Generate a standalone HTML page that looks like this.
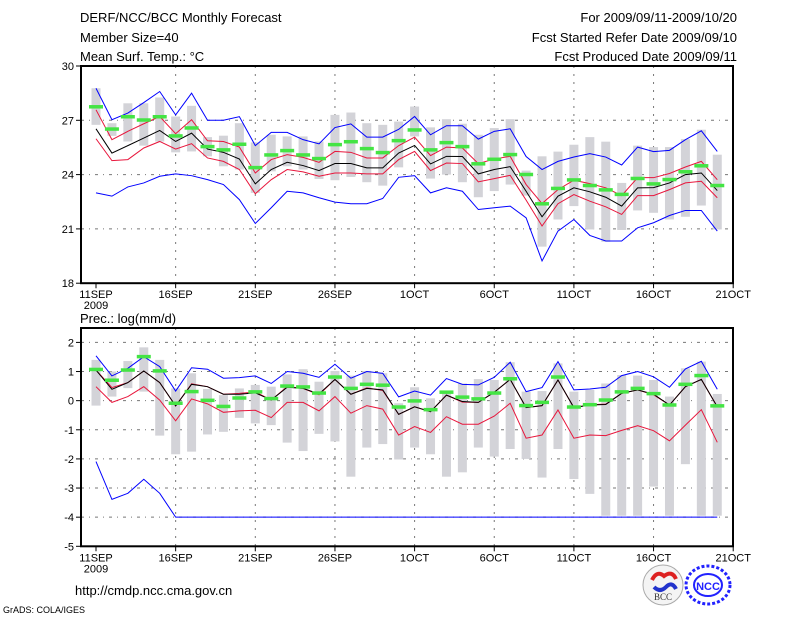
<!DOCTYPE html>
<html><head><meta charset="utf-8"><style>
html,body{margin:0;padding:0;background:#fff;}
svg{display:block;font-family:"Liberation Sans",sans-serif;}
</style></head><body>
<svg id="chart" width="800" height="618" viewBox="0 0 800 618" xmlns="http://www.w3.org/2000/svg">
<g font-size="13" fill="#000">
<text x="80" y="22">DERF/NCC/BCC Monthly Forecast</text>
<text x="80" y="42">Member Size=40</text>
<text x="80" y="61">Mean Surf. Temp.: °C</text>
<text x="737" y="22" text-anchor="end">For 2009/09/11-2009/10/20</text>
<text x="737" y="42" text-anchor="end">Fcst Started Refer Date 2009/09/10</text>
<text x="737" y="61" text-anchor="end">Fcst Produced Date 2009/09/11</text>
<text x="80" y="323">Prec.: log(mm/d)</text>
<text x="75" y="595">http://cmdp.ncc.cma.gov.cn</text>
<text x="3" y="613" font-size="9">GrADS: COLA/IGES</text>
</g>
<g id="top"></g>
<g id="bot"></g>
<g>
<circle cx="663" cy="585" r="20" fill="#f4f4f4" stroke="#aaa"/>
<path d="M652 580 q5 -10 12 -4 q8 -6 12 3" stroke="#d22" stroke-width="4" fill="none"/>
<path d="M654 587 q6 6 12 0 q6 -6 10 2" stroke="#23c" stroke-width="4" fill="none"/>
<text x="663" y="600" font-size="9" text-anchor="middle" font-family="Liberation Serif,serif" fill="#333">BCC</text>
</g>
<g>
<ellipse cx="708" cy="585" rx="22" ry="19" fill="none" stroke="#22f" stroke-width="3" stroke-dasharray="3,2"/>
<ellipse cx="708" cy="585" rx="14" ry="11" fill="none" stroke="#22f" stroke-width="2"/>
<text x="708" y="590" font-size="11" font-weight="bold" text-anchor="middle" fill="#22f">NCC</text>
</g>
</svg>
<script>
// ---- data: temperature (°C) ----
const categories = ["11SEP","16SEP","21SEP","26SEP","1OCT","6OCT","11OCT","16OCT","21OCT"];
const tBlueHi = [28.77,27.03,27.4,27.98,28.59,27.3,28.5,27.0,27.0,27.2,25.6,26.33,26.33,25.93,25.7,26.6,26.8,26.07,26.07,26.5,27.21,26.2,26.7,26.7,25.96,26.39,26.53,25.0,24.28,24.73,24.97,25.16,24.97,24.53,25.52,25.27,25.34,25.93,26.42,25.28];
const tBlueLo = [22.99,22.81,23.32,23.54,23.91,24.04,23.94,23.72,23.45,22.62,21.3,22.17,23.08,22.99,22.72,22.48,22.39,22.39,22.68,23.85,23.94,22.99,23.27,23.08,22.07,22.17,22.26,21.61,19.23,20.88,21.52,20.64,20.33,20.33,21.06,21.34,21.74,22.02,22.02,20.88];
const tRedHi = [27.58,25.93,26.39,26.81,27.21,26.26,27.03,25.87,25.83,25.52,24.09,24.83,25.1,24.95,24.68,25.28,25.23,24.92,24.92,25.6,26.07,25.05,25.52,25.47,24.61,24.86,25.01,23.45,22.4,23.17,23.69,23.5,23.27,22.84,23.83,23.83,24.06,24.42,24.73,23.72];
const tRedLo = [25.98,24.77,24.83,25.47,25.83,25.41,25.71,24.92,24.73,24.28,22.94,23.72,24.28,24.15,23.91,24.09,24.09,24.04,24.04,24.83,25.28,24.22,24.64,24.61,23.6,23.78,23.96,22.59,21.16,22.39,22.9,22.53,22.22,21.8,22.84,22.84,23.17,23.54,23.63,22.72];
const tMean = [26.53,25.19,25.6,26.02,26.44,25.83,26.29,25.41,25.23,24.86,23.49,24.28,24.68,24.5,24.22,24.61,24.61,24.37,24.37,25.19,25.61,24.59,25.01,25.0,24.04,24.28,24.44,23.08,21.67,22.81,23.27,23.05,22.75,22.26,23.27,23.28,23.54,24.0,24.09,23.12];
const tObs = [27.76,26.53,27.21,27.03,27.21,26.15,26.59,25.56,25.38,25.69,24.4,25.1,25.34,25.1,24.9,25.67,25.83,25.45,25.23,25.89,26.48,25.38,25.78,25.56,24.61,24.86,25.12,24.02,22.4,23.25,23.72,23.41,23.17,22.92,23.8,23.5,23.74,24.17,24.5,23.41];
const tBarHi = [28.77,26.84,27.94,27.94,28.26,27.21,27.8,26.07,26.15,26.84,25.78,26.2,26.11,26.11,25.83,27.3,27.43,26.84,26.75,26.93,27.76,26.61,27.06,26.81,26.2,26.57,27.06,24.22,25.01,25.27,25.65,26.07,25.82,23.54,25.6,25.52,25.52,25.96,26.48,25.1];
const tBarLo = [26.75,26.14,25.83,25.6,25.83,25.23,25.28,25.01,24.46,24.28,22.99,24.18,24.46,24.28,23.76,23.69,23.87,23.58,23.39,24.4,26.11,23.78,24.0,23.58,22.75,23.09,23.45,22.84,20.02,21.52,22.26,20.97,20.29,20.94,22.02,21.89,21.52,21.67,22.29,20.97];
const tTicks = [30,27,24,21,18];
// ---- data: precipitation log(mm/d) ----
const pBlueHi = [1.54,0.85,1.11,1.51,1.17,0.33,1.13,1.08,0.77,0.79,0.85,0.59,1.0,0.94,0.8,1.25,0.77,1.0,0.94,0.13,0.33,0.19,0.76,0.56,0.54,0.8,1.32,0.31,0.45,1.34,0.37,0.4,0.46,0.86,1.0,0.82,0.46,1.09,1.35,0.39];
const pBlueLo = [-2.09,-3.39,-3.18,-2.7,-3.18,-4,-4,-4,-4,-4,-4,-4,-4,-4,-4,-4,-4,-4,-4,-4,-4,-4,-4,-4,-4,-4,-4,-4,-4,-4,-4,-4,-4,-4,-4,-4,-4,-4,-4,-4];
const pRedHi = [1.05,0.45,0.62,1.02,0.62,-0.18,0.58,0.48,0.22,0.25,0.3,0.02,0.48,0.42,0.2,0.73,0.22,0.44,0.35,-0.47,-0.21,-0.38,0.19,-0.05,-0.06,0.29,0.73,-0.24,-0.17,0.71,-0.24,-0.14,-0.12,0.25,0.37,0.2,-0.15,0.48,0.73,-0.21];
const pRedLo = [0.48,-0.06,0.14,0.48,0.02,-0.69,0.06,-0.11,-0.4,-0.35,-0.33,-0.58,-0.06,-0.06,-0.35,0.14,-0.43,-0.17,-0.29,-1.18,-0.89,-1.09,-0.55,-0.81,-0.81,-0.53,-0.09,-1.29,-1.18,-0.32,-1.29,-1.18,-1.2,-1.02,-0.86,-1.03,-1.38,-0.84,-0.31,-1.43];
const pMean = [1.05,0.39,0.62,1.02,0.62,-0.18,0.56,0.48,0.22,0.22,0.27,0.02,0.46,0.42,0.23,0.73,0.22,0.42,0.37,-0.47,-0.21,-0.38,0.19,-0.03,-0.06,0.29,0.73,-0.24,-0.17,0.71,-0.24,-0.15,-0.13,0.25,0.37,0.22,-0.15,0.48,0.73,-0.21];
const pObs = [1.08,0.71,1.06,1.52,1.03,-0.08,0.32,0.02,-0.19,0.1,0.31,0.08,0.51,0.48,0.27,0.82,0.43,0.57,0.54,-0.21,0,-0.3,0.3,0.13,0.07,0.27,0.76,-0.16,-0.05,0.82,-0.21,-0.13,0.03,0.31,0.43,0.25,-0.14,0.57,0.87,-0.17];
const pBarHi = [1.4,1.0,1.36,1.83,1.4,0.42,0.94,0.4,0.19,0.42,0.54,0.48,0.9,1.08,0.65,1.02,0.86,1.02,0.94,-0.09,0.46,0.08,0.33,0.59,0.74,0.71,1.32,0.31,0.33,1.28,0.31,0.37,0.59,0.88,0.86,0.71,0.14,1.11,1.34,0.23];
const pBarLo = [-0.17,0.14,0.43,0.31,-1.2,-1.84,-1.75,-1.16,-1.07,-0.59,-0.78,-0.84,-1.44,-1.73,-1.14,-1.4,-2.61,-1.61,-1.49,-2.02,-1.61,-1.84,-2.61,-2.46,-1.61,-1.92,-1.66,-2.0,-2.64,-1.66,-2.69,-3.2,-3.95,-3.95,-3.95,-2.95,-3.95,-2.18,-3.95,-3.95];
const pTicks = [2,1,0,-1,-2,-3,-4,-5];

const NS = "http://www.w3.org/2000/svg";
const X0 = 96, DX = 15.93, LEFT = 81, RIGHT = 733;
function xs(i){ return X0 + DX*i; }
function mk(parent, tag, attrs){
  const e = document.createElementNS(NS, tag);
  for (const k in attrs) e.setAttribute(k, attrs[k]);
  parent.appendChild(e); return e;
}
function panel(g, top, bottom, vmax, vmin, ticks, sets, prefix){
  const ys = v => top + (vmax - v) / (vmax - vmin) * (bottom - top);
  const boxTop = prefix === "temp" ? top : 328;
  // grid
  ticks.forEach(t => {
    const y = ys(t);
    if (y > boxTop + 1 && y < bottom - 1) {
      const l = mk(g, "line", {x1:LEFT, x2:RIGHT, y1:y, y2:y, stroke:"#777", "stroke-width":1, "stroke-dasharray":"3,5,1,5"});
      
      
    }
    const tk = mk(g, "line", {x1:LEFT-5, x2:LEFT, y1:y, y2:y, stroke:"#000"});
    
    
    const tx = mk(g, "text", {x:LEFT-7, y:y+4, "font-size":11, "text-anchor":"end"});
    tx.textContent = t;
    
    
  });
  categories.forEach((c, k) => {
    const x = xs(k*5);
    if (k > 0 && k < categories.length-1) {
      const l = mk(g, "line", {x1:x, x2:x, y1:boxTop, y2:bottom, stroke:"#777", "stroke-dasharray":"2,6"});
      
      
    }
    const tk = mk(g, "line", {x1:x, x2:x, y1:bottom, y2:bottom+5, stroke:"#000"});
    
    
    const tx = mk(g, "text", {x:x, y:bottom+15, "font-size":11, "text-anchor":"middle"});
    tx.textContent = c;
    
    
  });
  const yr = mk(g, "text", {x:xs(0), y:bottom+26, "font-size":11, "text-anchor":"middle"});
  yr.textContent = "2009";
  
  
  // bars
  sets.barHi.forEach((hi, i) => {
    const lo = sets.barLo[i];
    const r = mk(g, "rect", {x:xs(i)-4.5, y:ys(hi), width:9, height:Math.max(1, ys(lo)-ys(hi)), fill:"#d3d3d8"});
    
    
  });
  // lines
  const line = (arr, col, name, w) => {
    const p = mk(g, "polyline", {points: arr.map((v,i)=>xs(i)+","+ys(v)).join(" "), fill:"none", stroke:col, "stroke-width":w||1});
    
    
  };
  line(sets.blueHi, "#0000ff", prefix + "-max-line");
  line(sets.blueLo, "#0000ff", prefix + "-min-line");
  line(sets.redHi, "#e8163c", prefix + "-upper-line");
  line(sets.redLo, "#e8163c", prefix + "-lower-line");
  line(sets.mean, "#000", prefix + "-mean-line");
  sets.obs.forEach((v, i) => {
    const r = mk(g, "rect", {x:xs(i)-7, y:ys(v)-1.5, width:14, height:3.5, fill:"#44e444"});
    
    
  });
  // frame
  const f = mk(g, "rect", {x:LEFT, y:boxTop, width:RIGHT-LEFT, height:bottom-boxTop, fill:"none", stroke:"#000", "stroke-width":2});
  
  
}
panel(document.getElementById("top"), 66, 283.2, 30, 18, tTicks,
  {barHi:tBarHi, barLo:tBarLo, blueHi:tBlueHi, blueLo:tBlueLo, redHi:tRedHi, redLo:tRedLo, mean:tMean, obs:tObs}, "temp");
panel(document.getElementById("bot"), 342.4, 546.3, 2, -5, pTicks,
  {barHi:pBarHi, barLo:pBarLo, blueHi:pBlueHi, blueLo:pBlueLo, redHi:pRedHi, redLo:pRedLo, mean:pMean, obs:pObs}, "prec");
</script>
</body></html>
